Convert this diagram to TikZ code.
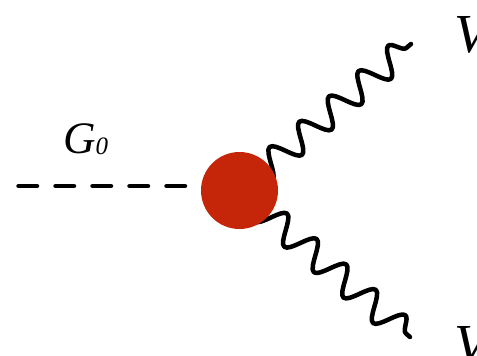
\documentclass[tikz,border=0pt]{standalone}
\usepackage{fontspec}
\setmainfont{Liberation Serif}
\usetikzlibrary{decorations.pathmorphing,backgrounds}
\definecolor{vtxred}{HTML}{C52508}

\begin{document}
\begin{tikzpicture}[
  x=1pt, y=-1pt,
  line width=4.5pt, line cap=round, line join=round,
  scalar/.style={dash pattern=on 18.5pt off 18.5pt},
  boson/.style={line width=4.5pt, line cap=round, line join=round, decorate,
                decoration={snake, segment length=39pt, amplitude=13.5pt}},
  vertex/.style={circle, fill=vtxred, minimum size=77pt, inner sep=0pt},
  lbl/.style={inner sep=0pt, anchor=base west},
]
\clip (0,0) rectangle (477,356);

% ---- vertex and end points ----
\node[vertex] (vtx) at (239.5,190.5) {};
\coordinate (g0) at (18.5,186);
\coordinate (v1) at (411,44);
\coordinate (v2) at (410,337);

% ---- labels ----
\node[lbl, font=\fontsize{45}{45}\selectfont\itshape] (lg0) at (61,153)
      {G\raisebox{-1pt}{\fontsize{25}{25}\selectfont 0}};
\node[lbl, font=\fontsize{55}{55}\selectfont\itshape] (lv1) at (452,52) {V};
\node[lbl, font=\fontsize{55}{55}\selectfont\itshape] (lv2) at (452,362) {V};

% ---- lines ----
\draw[scalar] (g0) -- (g0 -| vtx.west);
\begin{scope}[on background layer]
  \draw[boson] (vtx.center) -- (v1);
  \draw[boson] (vtx.center) -- (v2);
\end{scope}
\end{tikzpicture}
\end{document}
